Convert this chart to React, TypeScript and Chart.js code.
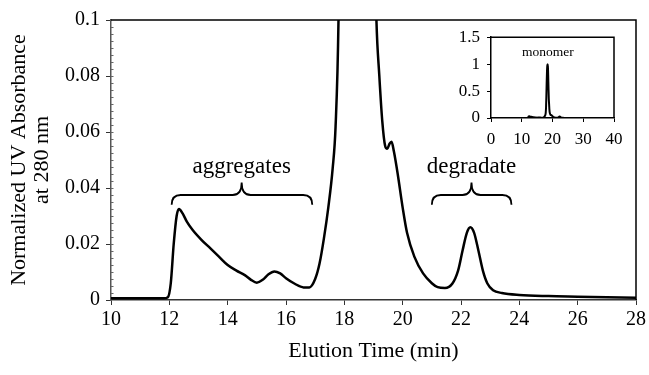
import React, { useEffect, useRef } from 'react';
import { Chart, registerables } from 'chart.js';

Chart.register(...registerables);

// ---- data ----
const elutionTime = [
  10.0, 11.0, 11.8, 11.95, 12.05, 12.15, 12.25, 12.33, 12.45, 12.6, 12.8, 13.1, 13.4, 13.7,
  14.0, 14.3, 14.6, 14.8, 15.0, 15.2, 15.4, 15.6, 15.8, 16.0, 16.3, 16.6, 16.8, 17.0, 17.15,
  17.3, 17.45, 17.6, 17.7, 17.8, 17.9, 18.0, 18.1, 18.2, 18.3, 18.4, 18.5, 18.6, 18.7, 18.8,
  18.9, 19.0, 19.1, 19.2, 19.3, 19.4, 19.47, 19.55, 19.62, 19.7, 19.83, 20.0, 20.15, 20.4,
  20.7, 21.0, 21.2, 21.45, 21.7, 21.9, 22.05, 22.2, 22.32, 22.45, 22.6, 22.75, 22.9, 23.1,
  23.4, 24.0, 25.0, 26.0, 27.0, 28.0,
];
const absorbance = [
  0.0006, 0.0006, 0.0006, 0.001, 0.006, 0.02, 0.03, 0.0325, 0.031, 0.028, 0.025, 0.0215, 0.0185, 0.0155,
  0.0125, 0.0105, 0.0088, 0.0072, 0.0062, 0.0072, 0.0092, 0.0102, 0.0095, 0.0078, 0.0058, 0.0045, 0.0045, 0.0075, 0.013,
  0.022, 0.033, 0.047, 0.062, 0.1, 0.2, 0.4, 0.65, 0.85, 0.97, 1.0, 0.96, 0.8, 0.55, 0.35,
  0.25, 0.15, 0.1, 0.08, 0.064, 0.055, 0.054, 0.0558, 0.0565, 0.053, 0.045, 0.033, 0.024, 0.0155,
  0.0095, 0.006, 0.0046, 0.0043, 0.0058, 0.0105, 0.0175, 0.024, 0.026, 0.024, 0.0175, 0.0105, 0.006, 0.0035,
  0.0025, 0.0018, 0.0014, 0.0012, 0.001, 0.0008,
];

const xTickLabels = ['10', '12', '14', '16', '18', '20', '22', '24', '26', '28'];
const yTickLabels = ['0', '0.02', '0.04', '0.06', '0.08', '0.1'];
const insetXTickLabels = ['0', '10', '20', '30', '40'];
const insetYTickLabels = ['0', '0.5', '1', '1.5'];
const yMinorStep = 0.0025;

const braceLabels = ['aggregates', 'degradate'];
const braceStarts = [12.08, 21.0];
const braceEnds = [16.9, 23.73];
const braceMids = [14.48, 22.36];
const braceLevels = [0.034, 0.0375, 0.042]; // ends, flat, tip
const braceLabelLevel = 0.0454;

const insetLabel = 'monomer';
const insetLabelPos = [18.5, 1.21];

const FONT = '"Liberation Serif", "Times New Roman", serif';

const points = elutionTime.map((t, i) => ({ x: t, y: absorbance[i] }));

const framePlugin = {
  id: 'frame',
  afterDatasetsDraw(chart: any) {
    const { ctx, chartArea } = chart;
    ctx.save();
    ctx.strokeStyle = '#000';
    ctx.lineWidth = 1.5;
    ctx.beginPath();
    ctx.moveTo(chartArea.left, chartArea.top);
    ctx.lineTo(chartArea.right, chartArea.top);
    ctx.lineTo(chartArea.right, chartArea.bottom);
    ctx.stroke();
    ctx.restore();
  },
};

const minorTickPlugin = {
  id: 'minorTicks',
  afterDraw(chart: any) {
    const { ctx, chartArea, scales } = chart;
    const y = scales.y;
    ctx.save();
    ctx.strokeStyle = '#666';
    ctx.lineWidth = 1;
    const n = Math.round((y.max - y.min) / yMinorStep);
    for (let i = 1; i < n; i++) {
      const v = y.min + i * yMinorStep;
      const py = Math.round(y.getPixelForValue(v)) + 0.5;
      ctx.beginPath();
      ctx.moveTo(chartArea.left, py);
      ctx.lineTo(chartArea.left + 2.5, py);
      ctx.stroke();
    }
    ctx.restore();
  },
};

const bracePlugin = {
  id: 'braces',
  afterDatasetsDraw(chart: any) {
    const { ctx, scales } = chart;
    const xs = scales.x;
    const ys = scales.y;
    const yEnd = ys.getPixelForValue(braceLevels[0]);
    const yFlat = ys.getPixelForValue(braceLevels[1]);
    const yTip = ys.getPixelForValue(braceLevels[2]);
    const yLab = ys.getPixelForValue(braceLabelLevel);
    ctx.save();
    ctx.strokeStyle = '#000';
    ctx.lineWidth = 1.8;
    ctx.fillStyle = '#000';
    ctx.font = `23px ${FONT}`;
    ctx.textAlign = 'center';
    ctx.textBaseline = 'alphabetic';
    braceLabels.forEach((label, i) => {
      const x0 = xs.getPixelForValue(braceStarts[i]);
      const x1 = xs.getPixelForValue(braceEnds[i]);
      const xm = xs.getPixelForValue(braceMids[i]);
      const r = 9;
      ctx.beginPath();
      ctx.moveTo(x0, yEnd);
      ctx.quadraticCurveTo(x0, yFlat, x0 + r, yFlat);
      ctx.lineTo(xm - r, yFlat);
      ctx.quadraticCurveTo(xm, yFlat, xm, yTip);
      ctx.quadraticCurveTo(xm, yFlat, xm + r, yFlat);
      ctx.lineTo(x1 - r, yFlat);
      ctx.quadraticCurveTo(x1, yFlat, x1, yEnd);
      ctx.stroke();
      ctx.fillText(label, xm, yLab);
    });
    ctx.restore();
  },
};

const insetLabelPlugin = {
  id: 'insetLabel',
  afterDatasetsDraw(chart: any) {
    const { ctx, scales } = chart;
    ctx.save();
    ctx.fillStyle = '#000';
    ctx.font = `13.5px ${FONT}`;
    ctx.textAlign = 'center';
    ctx.textBaseline = 'middle';
    ctx.fillText(insetLabel, scales.x.getPixelForValue(insetLabelPos[0]), scales.y.getPixelForValue(insetLabelPos[1]));
    ctx.restore();
  },
};

export default function App() {
  const mainRef = useRef<HTMLCanvasElement | null>(null);
  const insetRef = useRef<HTMLCanvasElement | null>(null);

  useEffect(() => {
    if (!mainRef.current || !insetRef.current) return;
    const tickFont = { family: FONT, size: 20 };
    const main = new Chart(mainRef.current, {
      type: 'line',
      data: {
        datasets: [
          {
            data: points,
            borderColor: '#000',
            borderWidth: 2.5,
            pointRadius: 0,
            fill: false,
            cubicInterpolationMode: 'monotone',
          },
        ],
      },
      options: {
        responsive: false,
        animation: false,
        layout: { padding: { left: 0, right: 12, top: 20, bottom: 0 } },
        plugins: { legend: { display: false }, tooltip: { enabled: false } },
        scales: {
          x: {
            type: 'linear',
            min: 10,
            max: 28,
            ticks: {
              stepSize: 2,
              padding: 3,
              maxRotation: 0,
              autoSkip: false,
              color: '#000',
              font: tickFont,
              callback: (_v: any, i: number) => xTickLabels[i],
            },
            grid: { drawOnChartArea: false, tickLength: 5, color: '#333', lineWidth: 1 },
            border: { color: '#333', width: 1.5 },
            title: {
              display: true,
              text: 'Elution Time (min)',
              color: '#000',
              font: { family: FONT, size: 22 },
              padding: { top: 0, bottom: 11 },
            },
            afterFit: (s: any) => {
              s.height = 75;
            },
          },
          y: {
            type: 'linear',
            min: 0,
            max: 0.1,
            ticks: {
              stepSize: 0.02,
              padding: 6,
              color: '#000',
              font: tickFont,
              callback: (_v: any, i: number) => yTickLabels[i],
            },
            grid: { drawOnChartArea: false, tickLength: 5, color: '#333', lineWidth: 1 },
            border: { color: '#555', width: 1.5 },
            title: {
              display: true,
              text: ['Normalized UV Absorbance', 'at 280 nm'],
              color: '#000',
              font: { family: FONT, size: 22, lineHeight: 1.05 },
              padding: { top: 8, bottom: 0 },
            },
            afterFit: (s: any) => {
              s.width = 111;
            },
          },
        },
      },
      plugins: [framePlugin, minorTickPlugin, bracePlugin],
    } as any);

    const insetFont = { family: FONT, size: 17 };
    const inset = new Chart(insetRef.current, {
      type: 'line',
      data: {
        datasets: [
          {
            data: points,
            borderColor: '#000',
            borderWidth: 2,
            pointRadius: 0,
            fill: false,
            cubicInterpolationMode: 'monotone',
          },
        ],
      },
      options: {
        responsive: false,
        animation: false,
        layout: { padding: { left: 0, right: 23, top: 14, bottom: 0 } },
        plugins: { legend: { display: false }, tooltip: { enabled: false } },
        scales: {
          x: {
            type: 'linear',
            min: 0,
            max: 40,
            ticks: {
              stepSize: 10,
              padding: 7,
              maxRotation: 0,
              autoSkip: false,
              color: '#000',
              font: insetFont,
              callback: (_v: any, i: number) => insetXTickLabels[i],
            },
            grid: { drawOnChartArea: false, tickLength: 4, color: '#000', lineWidth: 1 },
            border: { color: '#000', width: 1.5 },
            afterFit: (s: any) => {
              s.height = 42;
            },
          },
          y: {
            type: 'linear',
            min: 0,
            max: 1.5,
            ticks: {
              stepSize: 0.5,
              padding: 7,
              color: '#000',
              font: insetFont,
              callback: (_v: any, i: number) => insetYTickLabels[i],
            },
            grid: { drawOnChartArea: false, tickLength: 4, color: '#000', lineWidth: 1 },
            border: { color: '#000', width: 1.5 },
            afterFit: (s: any) => {
              s.width = 71;
            },
          },
        },
      },
      plugins: [framePlugin, insetLabelPlugin],
    } as any);

    return () => {
      main.destroy();
      inset.destroy();
    };
  }, []);

  return (
    <div style={{ position: 'absolute', left: 0, top: 0, width: 649, height: 375, background: '#fff' }}>
      <canvas ref={mainRef} width={649} height={375} style={{ position: 'absolute', left: 0, top: 0, display: 'block' }} />
      <canvas ref={insetRef} width={217} height={140} style={{ position: 'absolute', left: 420, top: 20, display: 'block' }} />
    </div>
  );
}
